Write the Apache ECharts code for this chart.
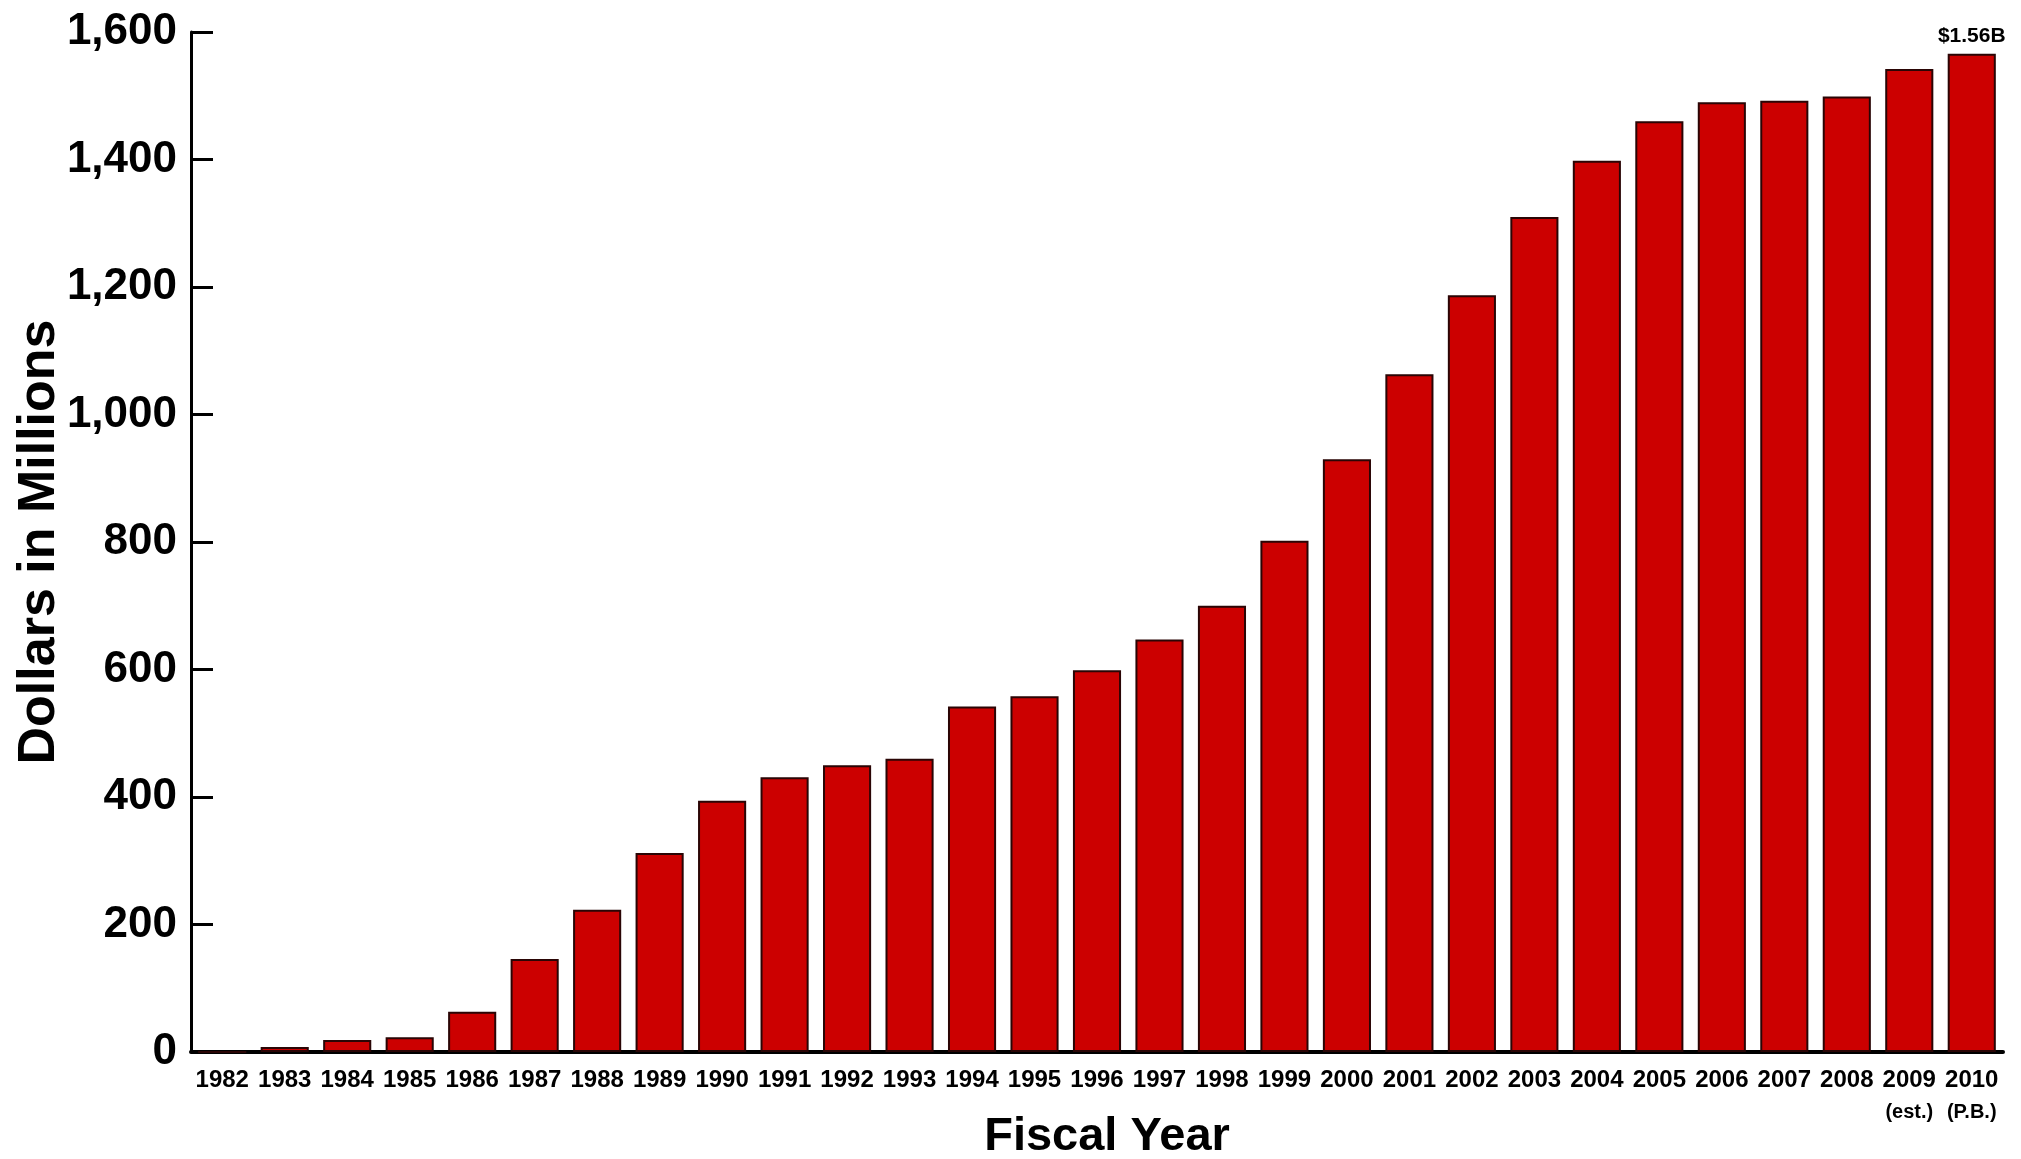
<!DOCTYPE html>
<html>
<head>
<meta charset="utf-8">
<script src="https://cdn.jsdelivr.net/npm/echarts@6/dist/echarts.min.js"></script>
<style>
html,body{margin:0;padding:0;background:#fff;}
#chart{width:2021px;height:1159px;}
</style>
</head>
<body>
<div id="chart"></div>
<script>
const years = ['1982','1983','1984','1985','1986','1987','1988','1989','1990','1991','1992','1993','1994','1995','1996','1997','1998','1999','2000','2001','2002','2003','2004','2005','2006','2007','2008','2009','2010'];
const yearNotes = ['','','','','','','','','','','','','','','','','','','','','','','','','','','','(est.)','(P.B.)'];
const funding = [0, 8, 19, 23, 63, 146, 223, 312, 394, 431, 450, 460, 542, 558, 599, 647, 700, 802, 930, 1063, 1187, 1310, 1398, 1460, 1490, 1492, 1499, 1542, 1566];
const barNotes = ['','','','','','','','','','','','','','','','','','','','','','','','','','','','','$1.56B'];
const yTicks = [0, 200, 400, 600, 800, 1000, 1200, 1400, 1600];

const sans = "'Liberation Sans',Arial,Helvetica,sans-serif";

const chart = echarts.init(document.getElementById('chart'), null, {renderer:'canvas'});

const seriesData = funding.map((v, i) => {
  const item = {value: v};
  if (barNotes[i]) {
    item.label = {
      show: true, position: 'top', distance: 7,
      formatter: barNotes[i],
      fontFamily: sans, fontWeight: 'bold', fontSize: 21, color: '#000'
    };
  }
  return item;
});

chart.setOption({
  backgroundColor: '#fff',
  animation: false,
  grid: {left: 191, right: 18, top: 32, bottom: 107, containLabel: false, outerBoundsMode: 'none'},
  xAxis: {
    type: 'category',
    data: years,
    name: 'Fiscal Year',
    nameLocation: 'middle',
    nameGap: 62,
    nameMoveOverlap: false,
    nameTextStyle: {fontFamily: sans, fontWeight: 'bold', fontSize: 47, color: '#000', padding: [0, 0, 0, 20]},
    axisLine: {show: true, lineStyle: {color: '#000', width: 4}},
    axisTick: {show: false},
    axisLabel: {
      interval: 0,
      margin: 12,
      fontFamily: sans, fontWeight: 'bold', fontSize: 24, color: '#000', lineHeight: 32,
      formatter: (v, i) => yearNotes[i] ? v + '\n{n|' + yearNotes[i] + '}' : v,
      rich: {n: {fontFamily: sans, fontWeight: 'bold', fontSize: 20, lineHeight: 32, color: '#000'}}
    }
  },
  yAxis: {
    type: 'value',
    min: yTicks[0],
    max: yTicks[yTicks.length - 1],
    interval: yTicks[1] - yTicks[0],
    name: 'Dollars in Millions',
    nameLocation: 'middle',
    nameGap: 125,
    nameMoveOverlap: false,
    nameTextStyle: {fontFamily: sans, fontWeight: 'bold', fontSize: 52, color: '#000'},
    axisLine: {show: true, lineStyle: {color: '#000', width: 3}},
    axisTick: {show: true, inside: true, length: 22, lineStyle: {color: '#000', width: 3}},
    splitLine: {show: false},
    axisLabel: {
      margin: 14,
      fontFamily: sans, fontWeight: 'bold', fontSize: 44, color: '#000',
      formatter: v => v.toLocaleString('en-US')
    }
  },
  series: [{
    type: 'bar',
    data: seriesData,
    barCategoryGap: '23%',
    itemStyle: {color: '#cc0000', borderColor: '#2a0505', borderWidth: 2}
  }]
});
</script>
</body>
</html>
